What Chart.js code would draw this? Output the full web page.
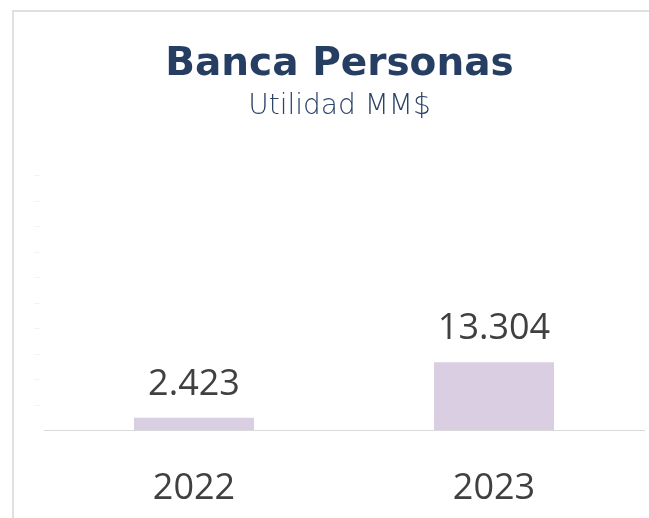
<!DOCTYPE html>
<html>
<head>
<meta charset="utf-8">
<script src="https://cdn.jsdelivr.net/npm/chart.js@4/dist/chart.umd.min.js"></script>
<style>
  html, body { margin: 0; padding: 0; background: #ffffff; overflow: hidden; width: 649px; height: 518px; }
  #frame { position: absolute; left: 12px; top: 10px; width: 700px; height: 600px;
           border-top: 2px solid #e0e0e0; border-left: 2px solid #e0e0e0; z-index: 0; }
  #wrap { position: absolute; left: 0; top: 0; width: 679px; height: 518px; z-index: 1; }
</style>
</head>
<body>
<div id="frame"></div>
<div id="wrap"><canvas id="c" width="679" height="518"></canvas></div>
<script>
// ---- data ----
const categories = ['2022', '2023'];
const utilidad = [2423, 13304];
const yTicks = { min: 0, max: 50000, step: 5000 };
const titleText = 'Banca Personas';
const subtitleText = 'Utilidad MM$';

function fmt(v) {
  return String(v).replace(/\B(?=(\d{3})+(?!\d))/g, '.');
}

const valueLabels = {
  id: 'valueLabels',
  afterDatasetsDraw(chart) {
    const ctx = chart.ctx;
    const meta = chart.getDatasetMeta(0);
    ctx.save();
    ctx.font = '36px "Open Sans"';
    ctx.fillStyle = '#404040';
    ctx.textAlign = 'center';
    ctx.textBaseline = 'alphabetic';
    meta.data.forEach((bar, i) => {
      ctx.fillText(fmt(chart.data.datasets[0].data[i]), bar.x, bar.y - 23);
    });
    ctx.restore();
  }
};

new Chart(document.getElementById('c'), {
  type: 'bar',
  data: {
    labels: categories,
    datasets: [{
      data: utilidad,
      backgroundColor: '#d9cee2',
      borderWidth: 0,
      barPercentage: 0.4,
      categoryPercentage: 1.0
    }]
  },
  options: {
    responsive: false,
    animation: false,
    events: [],
    layout: { padding: { left: 0, right: 0, top: 0, bottom: 0 } },
    plugins: {
      legend: { display: false },
      tooltip: { enabled: false },
      title: {
        display: true,
        text: titleText,
        color: '#253e62',
        font: { family: '"DejaVu Sans"', size: 39, weight: 'bold', lineHeight: 1 },
        padding: { top: 45.5, bottom: 0 }
      },
      subtitle: {
        display: true,
        text: subtitleText,
        color: '#2a4468',
        font: { family: '"DejaVu Sans"', size: 28, weight: 200, lineHeight: 1 },
        padding: { top: 7.8, bottom: 54.7 }
      }
    },
    scales: {
      x: {
        grid: { display: false, drawTicks: false },
        border: { display: true, color: '#d9d9d9', width: 1 },
        ticks: {
          color: '#404040',
          font: { family: '"Open Sans"', size: 36, lineHeight: 1 },
          padding: 41,
          maxRotation: 0
        },
        afterFit(s) { s.height = 88; }
      },
      y: {
        min: yTicks.min,
        max: yTicks.max,
        grid: { display: false, drawTicks: false },
        border: { display: false },
        ticks: {
          stepSize: yTicks.step,
          color: '#ededed',
          font: { family: '"Open Sans"', size: 7 },
          padding: 3,
          callback: (v) => (v === 0 ? '' : '—')
        },
        afterFit(s) { s.width = 44; }
      },
      yRight: {
        position: 'right',
        display: true,
        grid: { display: false, drawTicks: false },
        border: { display: false },
        ticks: { display: false },
        afterFit(s) { s.width = 35; }
      }
    }
  },
  plugins: [valueLabels]
});
</script>
</body>
</html>
